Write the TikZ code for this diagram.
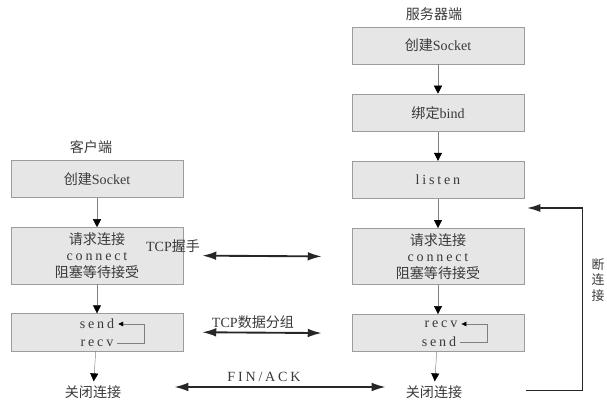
\documentclass[tikz,border=0pt]{standalone}
\usepackage{fontspec}
\setmainfont{Liberation Serif}
\newfontfamily\cjk{Noto Sans CJK SC}
\newfontfamily\spaced[LetterSpace=20]{Liberation Serif}
\usetikzlibrary{arrows.meta,positioning}
\definecolor{boxFill}{HTML}{E6E6E6}
\definecolor{boxLine}{HTML}{9C9C9C}
\definecolor{inkGray}{HTML}{3A3A3A}

\begin{document}
\begin{tikzpicture}[
  x=0.03cm, y=-0.03cm,
  font=\fontsize{12}{14}\selectfont, text=inkGray,
  box/.style={draw=boxLine, fill=boxFill, align=center, minimum width=5.16cm, minimum height=1.12cm, inner sep=2pt},
  tallbox/.style={box, minimum height=1.69cm, font=\cjk\fontsize{12}{14}\selectfont},
  flow/.style={-{Triangle[length=2.4mm, width=2.4mm, color=black]}, draw=gray},
  cycle/.style={-{Triangle[length=1.5mm, width=1.4mm, color=black]}, draw=gray},
  link/.style={{Latex[length=4.2mm, width=2.6mm]}-{Latex[length=4.2mm, width=2.6mm]}, line width=1.6pt, draw=black!85},
  back/.style={-{Latex[length=4mm, width=2.4mm]}, line width=1.2pt, draw=black!85},
]
\useasboundingbox (0,0) rectangle (607,402);

% client side
\node (clabel) at (91,147) {\cjk 客户端};
\node[box] (cmake) at (97,179) {{\cjk 创建}Socket};
\node[tallbox, below=0.88cm of cmake] (cconn) {请求连接\\{\spaced connect}\\阻塞等待接受};
\node[box, below=0.88cm of cconn] (cdata) {};
\node (csend) at (97,324) {\spaced send};
\node (crecv) at (97,343) {\spaced recv};
\node (cclose) at (93,392) {\cjk 关闭连接};

\draw[flow] (cmake) -- (cconn);
\draw[flow] (cconn) -- (cdata);
\draw[flow] (cdata) -- (cclose);
\draw[cycle] (crecv.east) -- ++(27,0) |- (csend.east);

% server side
\node (slabel) at (434,14) {\cjk 服务器端};
\node[box] (smake) at (438,45.5) {{\cjk 创建}Socket};
\node[box, below=0.88cm of smake] (sbind) {{\cjk 绑定}bind};
\node[box, below=0.88cm of sbind] (slisten) {\spaced listen};
\node[tallbox, below=0.88cm of slisten] (saccept) {请求连接\\{\spaced connect}\\阻塞等待接受};
\node[box, below=0.88cm of saccept] (sdata) {};
\node (srecv) at (441,324) {\spaced recv};
\node (ssend) at (439,342) {\spaced send};
\node (sclose) at (434,392) {\cjk 关闭连接};

\draw[flow] (smake) -- (sbind);
\draw[flow] (sbind) -- (slisten);
\draw[flow] (slisten) -- (saccept);
\draw[flow] (saccept) -- (sdata);
\draw[flow] (sdata) -- (sclose);
\draw[cycle] (ssend.east) -- ++(27,0) |- (srecv.east);

% between the two
\node (hslabel) at (173,246) {TCP{\cjk 握手}};
\node (datalabel) at (253,322) {TCP{\cjk 数据分组}};
\node (finlabel) at (264,377) {\spaced FIN/ACK};
\draw[link] ([xshift=0.57cm]cconn.east) -- ([xshift=-0.9cm]saccept.west);
\draw[link] ([xshift=0.57cm]cdata.east) -- ([xshift=-0.9cm]sdata.west);
\draw[link] ([shift={(1.47cm,0.15cm)}]cclose.east) -- ([shift={(-0.48cm,0.15cm)}]sclose.west);

% back to listen
\coordinate (relisten) at (527,208);
\draw[back] ([shift={(1.8cm,0.05cm)}]sclose.east) -- ++(56,0) |- (relisten);
\node[align=center, font=\cjk\fontsize{11}{13}\selectfont] (cutlabel) at (598,280) {断\\连\\接};
\end{tikzpicture}
\end{document}
